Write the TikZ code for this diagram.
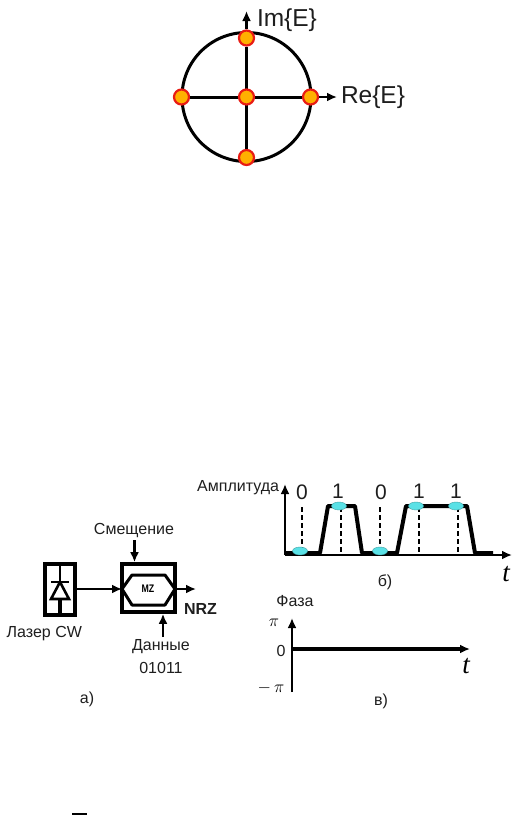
\documentclass[tikz,border=0pt]{standalone}
\usepackage{fontspec}
\setmainfont{Liberation Sans}
\newfontfamily\timefont{Liberation Serif}
\usetikzlibrary{arrows.meta,positioning,calc}
\definecolor{dotfill}{RGB}{255,176,0}
\definecolor{dotring}{RGB}{232,28,20}
\definecolor{markfill}{RGB}{90,225,230}
\definecolor{inktext}{RGB}{30,30,30}
\tikzset{
  flow/.style={>={Latex[length=10pt,width=9pt]},line width=2pt},
  dotpt/.style={draw=dotring,circle,fill=dotfill,line width=2.2pt,inner sep=0pt,minimum size=15pt},
  bigtxt/.style={font=\fontsize{24.5}{27}\selectfont,text=inktext,inner sep=0pt},
  midtxt/.style={font=\fontsize{21}{24}\selectfont,text=inktext,inner sep=0pt},
  lbl/.style={font=\fontsize{16}{18}\selectfont,text=inktext,inner sep=0pt},
  timelbl/.style={font=\timefont\itshape\fontsize{27}{29}\selectfont,inner sep=0pt},
  pilbl/.style={font=\fontsize{19}{21}\selectfont,inner sep=0pt},
  devbox/.style={draw,line width=3.6pt,fill=white},
  hair/.style={line width=1.4pt,dash pattern=on 5pt off 3pt},
}
\begin{document}
\begin{tikzpicture}[flow,x=1pt,y=-1pt]
\useasboundingbox (0,0) rectangle (524,815);
% constellation
\coordinate (cen) at (246.5,97);
\draw[line width=3pt] (cen) circle (64.5);
\node[dotpt] (pt) at (246.5,38) {};
\node[dotpt] (pl) at (181.5,97) {};
\node[dotpt] (pr) at (310.5,97) {};
\node[dotpt] (pb) at (246.5,157.5) {};
\coordinate (imtip) at (246.5,11);
\coordinate (retip) at (337,97);
\draw[line width=3pt] (pt)--(pb); \draw[line width=3pt] (pl)--(pr);
\draw[->,line width=2.6pt] (pt)--(imtip);
\draw[->,line width=2.6pt] (pr)--(retip);
\node[dotpt] (pc) at (cen) {};
\node[bigtxt,anchor=west] (imlab) at (256,20) {Im\{E\}};
\node[bigtxt,anchor=west] (relab) at (340,97.5) {Re\{E\}};
% modulator
\node[devbox,minimum width=30pt,minimum height=51pt] (laser) at (60,589.5) {};
\node[devbox,minimum width=53pt,minimum height=48pt] (mod) at (148.5,588) {};
\coordinate (lt) at (60,582); \coordinate (lb) at (60,599);
\draw[line width=2pt] (laser.north)--(lt);
\draw[line width=3.6pt] (lb)--(laser.south);
\draw[line width=2.6pt] (51,599)--(69,599)--(lt)--cycle;
\draw[line width=2.6pt] (51,582)--(69,582);
\draw[line width=3pt,line join=round] (122,589)--(132,575)--(165,575)--(175,589)--(165,605)--(132,605)--cycle;
\node[font=\bfseries\fontsize{11}{12}\selectfont,inner sep=0pt,xscale=0.8] (mz) at (148,589) {MZ};
\coordinate (modin) at (122,589); \coordinate (outtip) at (196,589); \coordinate (laserout) at (75,589);
\draw[->] (laserout)--(modin);
\draw[->] (mod.east|-outtip)--(outtip);
\node[lbl] (bias) at (134,530) {Смещение};
\coordinate (bstart) at (134.5,540);
\draw[->,line width=2.8pt] (bstart)--(bstart|-mod.north);
\node[lbl] (data) at (161,647) {Данные};
\node[lbl,below=6pt of data] (bits) {01011};
\coordinate (dstart) at (163,637);
\draw[->,line width=2.8pt] (dstart)--(dstart|-mod.south);
\node[lbl,anchor=east] (las) at (83,634) {Лазер CW};
\node[font=\bfseries\fontsize{16}{18}\selectfont,text=inktext,inner sep=0pt,anchor=west] (nrz) at (183,609) {NRZ};
\node[lbl] (capa) at (87,699) {а)};
% amplitude
\coordinate (ao) at (285,555); \coordinate (aup) at (285,484); \coordinate (art) at (512,555);
\draw[->] (ao)--(aup);
\draw[->] (ao)--(art);
\foreach \xx in {302,341,380,419,458}
  \draw[hair] (\xx,507)--(\xx,553);
\draw[line width=4pt,line join=round] (285,553)--(320,553)--(328,506)--(355,506)--(362,553)--(397,553)--(406,506)--(467,506)--(475,553)--(493,553);
\foreach \xx/\yy in {300/551,339/506,380/551,416/506,456/506}
  \fill[markfill,draw=markfill!70!black,line width=0.4pt] (\xx,\yy) ellipse (7.5 and 4);
\node[lbl,anchor=east] (amp) at (280,488) {Амплитуда};
\node[midtxt] (b1) at (302,492) {0};
\node[midtxt] (b2) at (338,491) {1};
\node[midtxt] (b3) at (381,492) {0};
\node[midtxt] (b4) at (419,491) {1};
\node[midtxt] (b5) at (456,491) {1};
\node[timelbl] (tamp) at (506,574) {t};
\node[lbl] (capb) at (385,582) {б)};
% phase
\coordinate (ph) at (292,649); \coordinate (phup) at (292,618); \coordinate (phlo) at (292,692); \coordinate (phrt) at (470,649);
\draw[->] (phlo)--(phup);
\draw[->,line width=3.4pt] (ph)--(phrt);
\node[lbl] (phase) at (295,601) {Фаза};
\node[pilbl] (pip) at (274,623) {$\pi$};
\node[lbl] (zero) at (281,651) {0};
\node[pilbl] (pim) at (271,688) {$-\,\pi$};
\node[timelbl] (tph) at (466,666) {t};
\node[lbl] (capv) at (381,701) {в)};
% cut-off rule at the page foot
\draw[line width=1.5pt] (72,814.2)--(87,814.2);
\end{tikzpicture}
\end{document}
